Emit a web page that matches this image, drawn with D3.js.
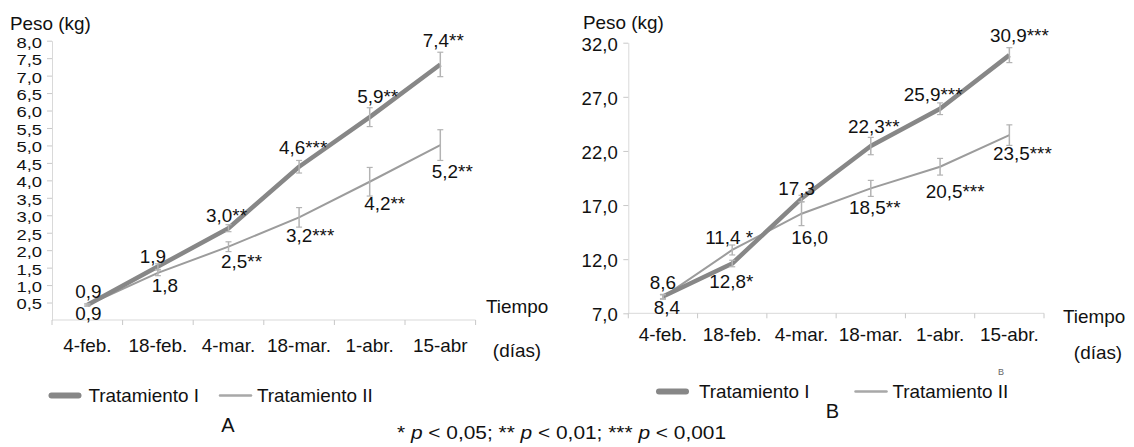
<!DOCTYPE html>
<html>
<head>
<meta charset="utf-8">
<script src="https://cdn.jsdelivr.net/npm/d3@7"></script>
<style>
  body { margin: 0; background: #fff; }
  text { font-family: "Liberation Sans", Arial, sans-serif; fill: #111; }
</style>
</head>
<body>
<div id="chart"></div>
<script>
// categories
var datesA = ["4-feb.", "18-feb.", "4-mar.", "18-mar.", "1-abr.", "15-abr"];
var datesB = ["4-feb.", "18-feb.", "4-mar.", "18-mar.", "1-abr.", "15-abr."];

// chart A (kg)
var aTrat1 = [0.43, 1.53, 2.63, 4.39, 5.81, 7.32];
var aTrat2 = [0.43, 1.35, 2.10, 2.94, 3.96, 5.01];
var aErr1 = [0.03, 0.08, 0.10, 0.18, 0.27, 0.35];
var aErr2 = [0.03, 0.08, 0.14, 0.28, 0.41, 0.44];
var aLab1 = ["0,9", "1,9", "3,0**", "4,6***", "5,9**", "7,4**"];
var aLab2 = ["0,9", "1,8", "2,5**", "3,2***", "4,2**", "5,2**"];
var aTicks = [0.5, 1.0, 1.5, 2.0, 2.5, 3.0, 3.5, 4.0, 4.5, 5.0, 5.5, 6.0, 6.5, 7.0, 7.5, 8.0];

// chart B (kg)
var bTrat1 = [8.55, 11.6, 17.6, 22.45, 25.9, 30.85];
var bTrat2 = [8.5, 12.85, 16.2, 18.54, 20.54, 23.46];
var bErr1 = [0.2, 0.3, 0.3, 0.8, 0.54, 0.69];
var bErr2 = [0.2, 0.46, 1.1, 0.74, 0.77, 0.95];
var bLab1 = ["8,6", "12,8*", "17,3", "22,3**", "25,9***", "30,9***"];
var bLab2 = ["8,4", "11,4 *", "16,0", "18,5**", "20,5***", "23,5***"];
var bTicks = [7, 12, 17, 22, 27, 32];

// label nudges (px) from each point
var aOff1 = [[1,-13],[-5,-10],[-2,-13],[4,-19],[8,-20],[3,-24]];
var aOff2 = [[1,9],[7,13],[13,15],[11,18],[15,22],[12,27]];
var bOff1 = [[0,-14],[-1,18],[-5,-10],[3,-19],[-7,-14],[10,-19]];
var bOff2 = [[4,11],[-3,-12],[8,24],[4,19],[15,25],[13,19]];

var thickColor = "#878787", thinColor = "#9c9c9c", errColor = "#b3b3b3";
var axisColor = "#d9d9d9";
var fs = 18, sx = 1.05;

var fmt = d3.formatLocale({decimal: ",", thousands: ".", grouping: [3], currency: ["", ""]}).format(".1f");

var svg = d3.select("#chart").append("svg")
  .attr("width", 1134)
  .attr("height", 447);

function txt(x, y, s, anchor, size, scaleX) {
  return svg.append("text")
    .attr("transform", "translate(" + x + "," + y + ") scale(" + (scaleX || sx) + ",1)")
    .attr("text-anchor", anchor || "middle")
    .attr("dominant-baseline", "central")
    .style("font-size", (size || fs) + "px")
    .text(s);
}

function panel(opt) {
  var x = d3.scaleBand().domain(opt.dates).range([opt.left, opt.right]);
  var y = d3.scaleLinear().domain(opt.domain).range([opt.bottom, opt.top]);
  var g = svg.append("g");

  // y axis
  var yAxis = g.append("g")
    .attr("transform", "translate(" + opt.left + ",0)")
    .call(d3.axisLeft(y).tickValues(opt.ticks).tickSize(5).tickSizeOuter(0).tickFormat(fmt));
  yAxis.select(".domain").attr("stroke", axisColor);
  yAxis.selectAll(".tick line").attr("stroke", "#c8c8c8");
  yAxis.selectAll(".tick text")
    .attr("x", null).attr("dy", null)
    .attr("dominant-baseline", "central")
    .attr("transform", "translate(" + (-opt.labPad) + "," + opt.labDy + ") scale(" + opt.ySx + "," + opt.ySy + ")")
    .style("font-size", opt.yFs + "px")
    .style("font-family", "Liberation Sans, Arial, sans-serif")
    .attr("fill", "#111");

  // x axis with ticks on category boundaries
  g.append("line")
    .attr("x1", opt.left).attr("x2", opt.right)
    .attr("y1", opt.bottom).attr("y2", opt.bottom)
    .attr("stroke", axisColor);
  var bounds = opt.dates.map(function(d) { return x(d); }).concat([opt.right]);
  g.selectAll(".xt").data(bounds).enter().append("line")
    .attr("x1", function(d) { return d; }).attr("x2", function(d) { return d; })
    .attr("y1", opt.bottom).attr("y2", opt.bottom + 5)
    .attr("stroke", "#c8c8c8");
  opt.dates.forEach(function(d) {
    txt(x(d) + x.bandwidth() / 2, opt.bottom + opt.xLabGap, d);
  });

  var cx = function(i) { return x(opt.dates[i]) + x.bandwidth() / 2; };
  var line = d3.line().x(function(d, i) { return cx(i); }).y(function(d) { return y(d); });

  g.append("path").datum(opt.v2).attr("d", line)
    .attr("fill", "none").attr("stroke", thinColor).attr("stroke-width", 2);
  g.append("path").datum(opt.v1).attr("d", line)
    .attr("fill", "none").attr("stroke", thickColor).attr("stroke-width", 4.5)
    .attr("stroke-linejoin", "round");

  [[opt.v1, opt.e1], [opt.v2, opt.e2]].forEach(function(s) {
    s[0].forEach(function(v, i) {
      var e = s[1][i], xx = cx(i);
      g.append("line").attr("x1", xx).attr("x2", xx)
        .attr("y1", y(v - e)).attr("y2", y(v + e))
        .attr("stroke", errColor).attr("stroke-width", 1.5);
      [v - e, v + e].forEach(function(c) {
        g.append("line").attr("x1", xx - 3).attr("x2", xx + 3)
          .attr("y1", y(c)).attr("y2", y(c))
          .attr("stroke", errColor).attr("stroke-width", 1.2);
      });
    });
  });

  opt.l1.forEach(function(s, i) { txt(cx(i) + opt.o1[i][0], y(opt.v1[i]) + opt.o1[i][1], s); });
  opt.l2.forEach(function(s, i) { txt(cx(i) + opt.o2[i][0], y(opt.v2[i]) + opt.o2[i][1], s); });
}

panel({
  dates: datesA, domain: [0, 8], ticks: aTicks,
  left: 52, right: 475.6, top: 40.7, bottom: 320,
  v1: aTrat1, v2: aTrat2, e1: aErr1, e2: aErr2,
  l1: aLab1, l2: aLab2, o1: aOff1, o2: aOff2,
  labPad: 10, labDy: 1.5, yFs: 16, ySx: 1.15, ySy: 0.95, xLabGap: 26
});

panel({
  dates: datesB, domain: [7, 32], ticks: bTicks,
  left: 628.3, right: 1044, top: 42.7, bottom: 313.3,
  v1: bTrat1, v2: bTrat2, e1: bErr1, e2: bErr2,
  l1: bLab1, l2: bLab2, o1: bOff1, o2: bOff2,
  labPad: 10.6, labDy: 1, yFs: 18, ySx: 1.03, ySy: 1, xLabGap: 21
});

// axis titles
txt(10, 24, "Peso (kg)", "start");
txt(583, 23, "Peso (kg)", "start");
txt(517, 307, "Tiempo");
txt(517, 351, "(días)");
txt(1094, 317, "Tiempo");
txt(1098, 353, "(días)");

// legends
function legend(x0, yc, tx1, sx2, tx2) {
  svg.append("rect").attr("x", x0).attr("y", yc - 3).attr("width", 33).attr("height", 6)
    .attr("rx", 3).attr("fill", thickColor);
  txt(tx1, yc, "Tratamiento I", "start");
  svg.append("line").attr("x1", sx2).attr("x2", sx2 + 31).attr("y1", yc).attr("y2", yc)
    .attr("stroke", "#a8a8a8").attr("stroke-width", 2.5).attr("stroke-linecap", "round");
  txt(sx2 + 37, yc, "Tratamiento II", "start");
}
legend(48.5, 395.5, 88.5, 220);
legend(656, 391.5, 699, 855.5);

txt(228, 425, "A", "middle", 20, 1);
txt(832.5, 411, "B", "middle", 20, 1);
svg.append("text").attr("x", 1001).attr("y", 375).attr("text-anchor", "middle")
  .style("font-size", "9px").style("fill", "#666").text("B");

// footnote with italic p
var foot = svg.append("text")
  .attr("transform", "translate(397,433) scale(1.16,1)")
  .attr("dominant-baseline", "central")
  .style("font-size", "18px");
[["* ", false], ["p", true], [" < 0,05; ** ", false], ["p", true], [" < 0,01; *** ", false], ["p", true], [" < 0,001", false]]
  .forEach(function(p) {
    foot.append("tspan").style("font-style", p[1] ? "italic" : "normal").text(p[0]);
  });
</script>
</body>
</html>
